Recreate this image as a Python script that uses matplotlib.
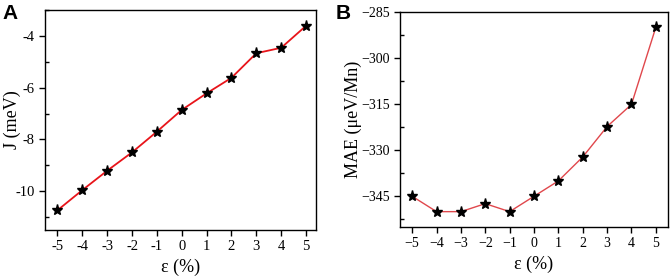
import matplotlib.pyplot as plt
from matplotlib.ticker import MultipleLocator

strain = [-5, -4, -3, -2, -1, 0, 1, 2, 3, 4, 5]
j_mev = [-10.74, -9.96, -9.21, -8.50, -7.70, -6.86, -6.22, -5.62, -4.67, -4.46, -3.61]
mae = [-345.0, -350.0, -350.0, -347.4, -350.0, -345.0, -340.0, -332.2, -322.3, -315.1, -290.0]

plt.rcParams['font.family'] = ['Liberation Serif', 'DejaVu Serif']

fig = plt.figure(figsize=(6.71, 2.77), dpi=100)
ax1 = fig.add_axes([45/671, 47/277, 271/671, 220/277])
ax2 = fig.add_axes([400/671, 50/277, 268/671, 215/277])


def style(ax, size):
    for s in ax.spines.values():
        s.set_linewidth(1.0)
    ax.tick_params(which='major', direction='out', length=4, width=1, labelsize=size,
                   top=False, right=False)
    ax.tick_params(which='minor', direction='in', length=3, width=1,
                   top=False, right=False, bottom=False)
    ax.set_xticks(strain)
    ax.set_xlabel('ε (%)', fontsize=13)


ax1.plot(strain, j_mev, color='#e8141a', lw=1.3, marker='*', ms=8,
         mfc='black', mec='black')
ax1.set_xlim(-5.5, 5.4)
ax1.set_ylim(-11.5, -3.0)
ax1.yaxis.set_minor_locator(MultipleLocator(1))
style(ax1, 10.5)
ax1.set_xticklabels([str(v) for v in strain])
ax1.set_yticks([-10, -8, -6, -4])
ax1.set_yticklabels(['-10', '-8', '-6', '-4'])
ax1.set_ylabel('J (meV)', fontsize=13)
ax1.yaxis.set_label_coords(-0.09, 0.5)

ax2.plot(strain, mae, color='#e0474c', lw=1.0, marker='*', ms=8,
         mfc='black', mec='black')
ax2.set_xlim(-5.5, 5.5)
ax2.set_ylim(-355, -285)
ax2.yaxis.set_minor_locator(MultipleLocator(7.5))
style(ax2, 10)
ax2.set_xticklabels([str(v).replace('-', '\u2212') for v in strain])
ax2.set_yticks([-345, -330, -315, -300, -285])
ax2.set_yticklabels(['\u2212345', '\u2212330', '\u2212315', '\u2212300', '\u2212285'])
ax2.set_ylabel('MAE (μeV/Mn)', fontsize=13)
ax2.yaxis.set_label_coords(-0.14, 0.5)

fig.text(2/671, 1 - 4/277, 'A', fontsize=15, fontweight='bold',
         family='Liberation Sans', va='top')
fig.text(336/671, 1 - 4/277, 'B', fontsize=15, fontweight='bold',
         family='Liberation Sans', va='top')

fig.savefig('out.png', dpi=100)
